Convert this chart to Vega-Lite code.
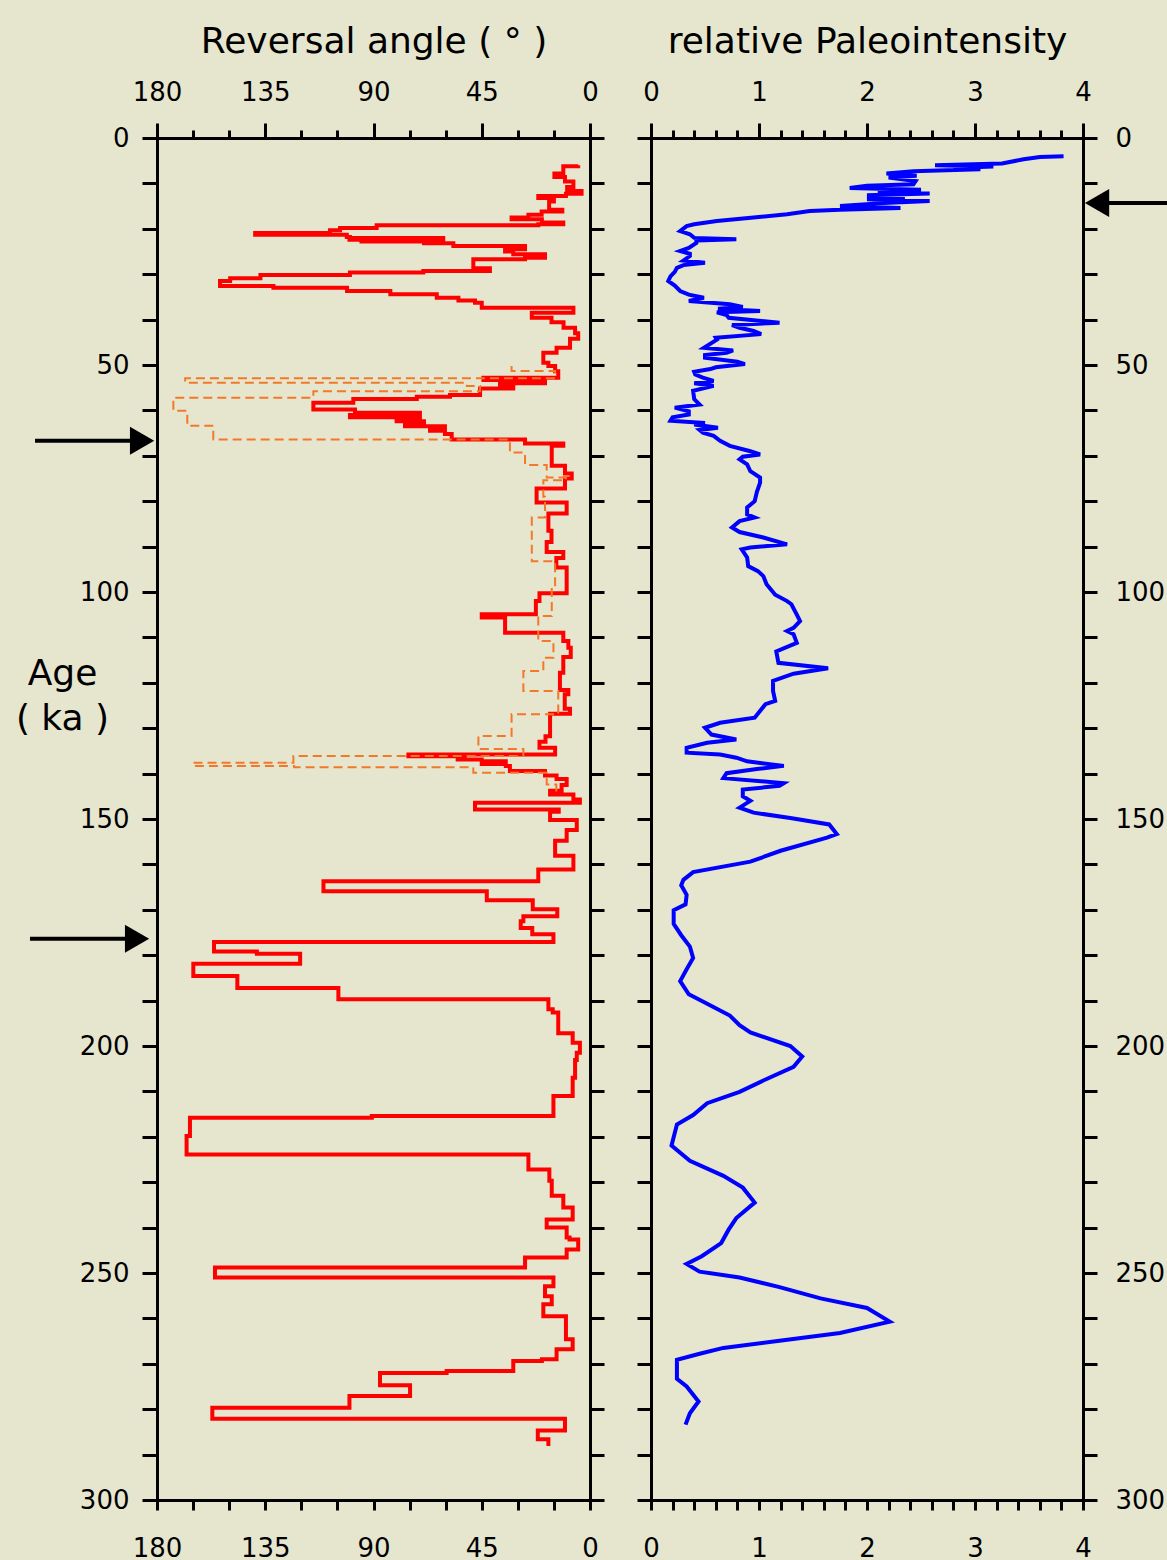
{
  "$schema": "https://vega.github.io/schema/vega-lite/v6.json",
  "background": "#E6E6CF",
  "padding": {"left": 15, "top": 23, "right": 0, "bottom": 0},
  "bounds": "flush",
  "spacing": 61,
  "config": {
    "view": {"stroke": null},
    "font": "DejaVu Sans",
    "axis": {
      "labelFont": "DejaVu Sans", "titleFont": "DejaVu Sans",
      "labelColor": "#000000", "titleColor": "#000000",
      "domainColor": "#000000", "tickColor": "#000000",
      "domainWidth": 3, "tickWidth": 3, "domainCap": "square",
      "labelFontSize": 26, "titleFontSize": 36, "titleFontWeight": "normal",
      "grid": false, "labelFlush": false, "labelOverlap": false, "labelBound": false
    }
  },
  "datasets": {
    "red": [
      {"age":6.0,"angle":4.9},{"age":6.2,"angle":11.1},{"age":7.8,"angle":14.8},{"age":8.6,"angle":10.4},{"age":9.6,"angle":6.9},
      {"age":10.8,"angle":9.5},{"age":11.7,"angle":3.5},{"age":12.3,"angle":10.0},{"age":12.8,"angle":21.5},{"age":13.2,"angle":15.0},
      {"age":14.0,"angle":17.0},{"age":15.8,"angle":11.5},{"age":16.2,"angle":20.1},{"age":16.9,"angle":25.6},{"age":17.5,"angle":32.6},
      {"age":17.9,"angle":20.0},{"age":18.6,"angle":11.1},{"age":19.0,"angle":21.5},{"age":19.2,"angle":88.7},{"age":19.8,"angle":103.9},
      {"age":20.3,"angle":108.1},{"age":20.9,"angle":139.2},{"age":21.3,"angle":101.1},{"age":21.8,"angle":99.8},{"age":22.0,"angle":61.0},
      {"age":22.2,"angle":100.0},{"age":22.4,"angle":61.0},{"age":22.6,"angle":95.0},{"age":22.8,"angle":69.0},{"age":23.2,"angle":56.8},
      {"age":23.8,"angle":27.0},{"age":24.5,"angle":35.3},{"age":25.0,"angle":31.9},{"age":25.6,"angle":18.7},{"age":26.4,"angle":27.0},
      {"age":26.7,"angle":48.5},{"age":28.7,"angle":41.6},{"age":29.3,"angle":69.3},{"age":29.6,"angle":99.8},{"age":30.2,"angle":137.0},
      {"age":30.9,"angle":149.6},{"age":31.5,"angle":153.8},{"age":32.6,"angle":131.6},{"age":33.0,"angle":101.0},{"age":33.7,"angle":83.0},
      {"age":34.4,"angle":63.7},{"age":35.2,"angle":54.7},{"age":35.8,"angle":47.8},{"age":36.3,"angle":45.0},{"age":37.4,"angle":6.9},
      {"age":38.5,"angle":24.2},{"age":39.6,"angle":16.0},{"age":40.6,"angle":11.0},{"age":41.8,"angle":6.2},{"age":43.0,"angle":4.9},
      {"age":44.2,"angle":8.3},{"age":46.2,"angle":13.9},{"age":47.3,"angle":19.4},{"age":49.5,"angle":17.3},{"age":50.2,"angle":14.5},
      {"age":51.4,"angle":13.2},{"age":52.8,"angle":44.3},{"age":53.3,"angle":18.7},{"age":54.0,"angle":37.4},{"age":54.6,"angle":31.9},
      {"age":55.2,"angle":45.7},{"age":56.6,"angle":58.2},{"age":57.0,"angle":72.0},{"age":57.5,"angle":98.4},{"age":58.3,"angle":115.0},
      {"age":59.8,"angle":97.7},{"age":60.5,"angle":70.7},{"age":61.0,"angle":99.8},{"age":61.5,"angle":70.7},{"age":62.0,"angle":80.4},
      {"age":62.4,"angle":69.0},{"age":62.7,"angle":76.9},{"age":63.5,"angle":60.3},{"age":63.9,"angle":66.5},{"age":64.5,"angle":60.3},
      {"age":65.2,"angle":57.5},{"age":66.4,"angle":27.0},{"age":67.3,"angle":11.1},{"age":67.8,"angle":15.9},{"age":72.2,"angle":10.4},
      {"age":73.9,"angle":7.6},{"age":75.0,"angle":10.4},{"age":77.2,"angle":22.2},{"age":80.3,"angle":9.7},{"age":82.7,"angle":17.3},
      {"age":86.5,"angle":16.0},{"age":89.0,"angle":18.0},{"age":91.2,"angle":11.1},{"age":92.5,"angle":14.0},{"age":94.6,"angle":9.7},
      {"age":100.3,"angle":21.0},{"age":102.0,"angle":22.5},{"age":104.9,"angle":45.0},{"age":105.6,"angle":35.3},{"age":109.0,"angle":11.1},
      {"age":110.8,"angle":9.0},{"age":112.3,"angle":8.0},{"age":114.3,"angle":11.1},{"age":117.8,"angle":12.5},{"age":121.6,"angle":9.0},
      {"age":122.5,"angle":10.5},{"age":125.7,"angle":8.3},{"age":126.8,"angle":16.6},{"age":131.8,"angle":18.5},{"age":133.0,"angle":21.0},
      {"age":134.3,"angle":14.5},{"age":135.8,"angle":75.5},{"age":136.2,"angle":52.0},{"age":136.6,"angle":55.0},{"age":136.9,"angle":45.0},
      {"age":137.3,"angle":35.0},{"age":137.6,"angle":45.0},{"age":137.9,"angle":35.0},{"age":138.3,"angle":33.3},{"age":139.4,"angle":18.7},
      {"age":140.4,"angle":13.9},{"age":141.2,"angle":9.7},{"age":142.5,"angle":11.8},{"age":143.8,"angle":16.6},{"age":144.6,"angle":6.9},
      {"age":145.7,"angle":4.2},{"age":146.4,"angle":47.8},{"age":147.9,"angle":13.0},{"age":148.4,"angle":16.6},{"age":150.2,"angle":5.5},
      {"age":152.4,"angle":9.7},{"age":154.8,"angle":14.5},{"age":158.1,"angle":6.9},{"age":161.1,"angle":21.5},{"age":163.7,"angle":110.8},
      {"age":165.9,"angle":42.9},{"age":167.9,"angle":23.8},{"age":169.9,"angle":13.6},{"age":171.4,"angle":27.7},{"age":172.5,"angle":28.8},
      {"age":174.0,"angle":24.0},{"age":175.4,"angle":15.2},{"age":177.1,"angle":156.3},{"age":179.2,"angle":138.5},{"age":179.7,"angle":120.5},
      {"age":181.9,"angle":164.9},{"age":184.6,"angle":146.6},{"age":187.2,"angle":104.6},{"age":189.7,"angle":17.3},{"age":191.9,"angle":15.5},
      {"age":192.6,"angle":13.2},{"age":197.2,"angle":7.2},{"age":199.3,"angle":4.2},{"age":201.5,"angle":5.5},{"age":203.1,"angle":6.2},
      {"age":207.0,"angle":7.2},{"age":211.0,"angle":15.2},{"age":215.4,"angle":90.7},{"age":215.8,"angle":166.3},{"age":219.8,"angle":167.7},
      {"age":223.9,"angle":25.6},{"age":227.2,"angle":16.9},{"age":229.7,"angle":15.9},{"age":233.0,"angle":11.1},{"age":235.6,"angle":7.2},
      {"age":238.2,"angle":18.0},{"age":240.0,"angle":9.7},{"age":242.2,"angle":8.5},{"age":242.6,"angle":4.9},{"age":244.8,"angle":9.7},
      {"age":246.6,"angle":27.0},{"age":248.8,"angle":155.9},{"age":251.0,"angle":15.2},{"age":252.9,"angle":18.7},{"age":255.1,"angle":15.9},
      {"age":256.9,"angle":19.4},{"age":259.5,"angle":10.0},{"age":264.6,"angle":7.2},{"age":266.8,"angle":13.9},{"age":269.0,"angle":20.0},
      {"age":269.4,"angle":31.9},{"age":271.6,"angle":59.6},{"age":272.0,"angle":87.3},{"age":274.7,"angle":74.8},{"age":277.1,"angle":100.0},
      {"age":279.7,"angle":157.0},{"age":282.1,"angle":10.4},{"age":284.7,"angle":21.7},{"age":286.6,"angle":17.3},{"age":288.1,"angle":17.3}
    ],
    "orange": [
      {"age":50.2,"angle":32.6},{"age":51.3,"angle":14.5},{"age":52.9,"angle":168.3},{"age":53.9,"angle":51.2},{"age":54.6,"angle":45.7},
      {"age":55.8,"angle":115.0},{"age":57.2,"angle":173.2},{"age":60.1,"angle":167.4},{"age":63.4,"angle":156.6},{"age":66.4,"angle":33.3},
      {"age":69.3,"angle":27.0},{"age":72.0,"angle":18.0},{"age":74.8,"angle":10.0},{"age":75.4,"angle":19.4},{"age":79.0,"angle":18.7},
      {"age":83.6,"angle":24.2},{"age":93.2,"angle":14.5},{"age":99.1,"angle":15.9},{"age":105.3,"angle":21.5},{"age":110.8,"angle":15.2},
      {"age":114.5,"angle":19.4},{"age":117.4,"angle":27.7},{"age":121.8,"angle":13.2},{"age":126.9,"angle":32.6},{"age":131.7,"angle":46.4},
      {"age":134.6,"angle":27.7},{"age":136.1,"angle":123.3},{"age":137.6,"angle":164.9},{"age":138.3,"angle":123.0},{"age":138.6,"angle":48.5},
      {"age":139.8,"angle":18.0},{"age":142.4,"angle":14.0},{"age":144.0,"angle":14.0}
    ],
    "blue": [
      {"age":4.0,"pi":3.82},{"age":4.2,"pi":3.60},{"age":4.7,"pi":3.45},{"age":5.6,"pi":3.25},{"age":6.0,"pi":2.63},
      {"age":6.3,"pi":3.17},{"age":6.6,"pi":2.80},{"age":6.9,"pi":3.05},{"age":7.3,"pi":2.43},{"age":7.8,"pi":2.18},
      {"age":8.3,"pi":2.46},{"age":8.7,"pi":2.20},{"age":9.5,"pi":2.45},{"age":10.2,"pi":2.43},{"age":10.5,"pi":2.00},
      {"age":11.0,"pi":1.84},{"age":11.4,"pi":2.50},{"age":11.8,"pi":2.10},{"age":12.2,"pi":2.58},{"age":12.6,"pi":2.00},
      {"age":13.0,"pi":2.35},{"age":13.5,"pi":2.00},{"age":13.9,"pi":2.58},{"age":14.4,"pi":2.10},{"age":15.0,"pi":1.75},
      {"age":15.4,"pi":2.31},{"age":15.8,"pi":1.75},{"age":16.1,"pi":1.47},{"age":16.8,"pi":1.26},{"age":17.5,"pi":0.95},
      {"age":18.3,"pi":0.61},{"age":19.0,"pi":0.40},{"age":19.4,"pi":0.33},{"age":20.5,"pi":0.27},{"age":21.2,"pi":0.36},
      {"age":22.0,"pi":0.40},{"age":22.3,"pi":0.79},{"age":22.6,"pi":0.42},{"age":23.1,"pi":0.42},{"age":24.2,"pi":0.35},
      {"age":24.9,"pi":0.27},{"age":25.5,"pi":0.36},{"age":26.0,"pi":0.36},{"age":27.0,"pi":0.30},{"age":27.5,"pi":0.50},
      {"age":28.0,"pi":0.30},{"age":28.6,"pi":0.24},{"age":29.5,"pi":0.22},{"age":30.5,"pi":0.18},{"age":31.5,"pi":0.16},
      {"age":32.5,"pi":0.22},{"age":33.7,"pi":0.27},{"age":34.5,"pi":0.35},{"age":35.2,"pi":0.49},{"age":35.9,"pi":0.35},
      {"age":36.6,"pi":0.73},{"age":37.2,"pi":0.85},{"age":37.6,"pi":0.62},{"age":38.1,"pi":1.01},{"age":38.4,"pi":0.61},
      {"age":39.0,"pi":0.70},{"age":39.6,"pi":0.72},{"age":40.7,"pi":1.19},{"age":41.2,"pi":0.75},{"age":41.8,"pi":0.82},
      {"age":42.5,"pi":0.95},{"age":43.2,"pi":1.02},{"age":44.0,"pi":0.60},{"age":44.4,"pi":0.61},{"age":46.2,"pi":0.49},
      {"age":46.8,"pi":0.76},{"age":47.3,"pi":0.70},{"age":47.8,"pi":0.50},{"age":48.4,"pi":0.50},{"age":49.3,"pi":0.80},
      {"age":49.8,"pi":0.87},{"age":50.5,"pi":0.60},{"age":50.9,"pi":0.55},{"age":51.5,"pi":0.40},{"age":52.1,"pi":0.41},
      {"age":52.8,"pi":0.48},{"age":53.5,"pi":0.58},{"age":54.0,"pi":0.40},{"age":54.6,"pi":0.58},{"age":55.7,"pi":0.39},
      {"age":57.5,"pi":0.40},{"age":58.7,"pi":0.45},{"age":59.4,"pi":0.22},{"age":60.2,"pi":0.35},{"age":60.9,"pi":0.35},
      {"age":61.5,"pi":0.20},{"age":62.3,"pi":0.18},{"age":62.8,"pi":0.50},{"age":63.1,"pi":0.40},{"age":63.8,"pi":0.62},
      {"age":64.3,"pi":0.45},{"age":64.9,"pi":0.48},{"age":65.6,"pi":0.58},{"age":66.7,"pi":0.64},{"age":67.8,"pi":0.73},
      {"age":69.0,"pi":0.92},{"age":69.7,"pi":1.01},{"age":70.2,"pi":0.85},{"age":70.8,"pi":0.82},{"age":71.9,"pi":0.89},
      {"age":73.4,"pi":0.92},{"age":74.8,"pi":1.01},{"age":75.9,"pi":1.01},{"age":78.0,"pi":0.98},{"age":80.0,"pi":0.96},
      {"age":81.4,"pi":0.89},{"age":82.9,"pi":0.89},{"age":83.6,"pi":0.96},{"age":84.4,"pi":0.82},{"age":85.8,"pi":0.75},
      {"age":86.8,"pi":0.82},{"age":88.0,"pi":1.04},{"age":89.5,"pi":1.26},{"age":90.2,"pi":0.92},{"age":90.6,"pi":0.84},
      {"age":92.4,"pi":0.89},{"age":94.3,"pi":0.90},{"age":95.4,"pi":0.99},{"age":96.5,"pi":1.04},{"age":98.3,"pi":1.07},
      {"age":100.6,"pi":1.15},{"age":102.0,"pi":1.26},{"age":102.7,"pi":1.30},{"age":105.0,"pi":1.35},{"age":106.4,"pi":1.38},
      {"age":107.9,"pi":1.32},{"age":108.6,"pi":1.26},{"age":109.3,"pi":1.32},{"age":111.2,"pi":1.35},{"age":113.1,"pi":1.16},
      {"age":115.6,"pi":1.18},{"age":116.8,"pi":1.64},{"age":118.0,"pi":1.32},{"age":119.6,"pi":1.13},{"age":121.8,"pi":1.13},
      {"age":124.0,"pi":1.15},{"age":124.7,"pi":1.06},{"age":127.7,"pi":0.96},{"age":128.8,"pi":0.64},{"age":129.9,"pi":0.50},
      {"age":131.4,"pi":0.56},{"age":132.5,"pi":0.79},{"age":133.2,"pi":0.52},{"age":134.3,"pi":0.33},{"age":135.4,"pi":0.33},
      {"age":135.8,"pi":0.64},{"age":136.5,"pi":0.79},{"age":137.3,"pi":0.89},{"age":138.3,"pi":1.23},{"age":139.0,"pi":0.98},
      {"age":139.9,"pi":0.70},{"age":141.0,"pi":0.67},{"age":142.1,"pi":1.23},{"age":142.7,"pi":1.19},{"age":143.5,"pi":0.85},
      {"age":145.0,"pi":0.85},{"age":146.0,"pi":0.92},{"age":147.5,"pi":0.82},{"age":148.6,"pi":0.95},{"age":149.8,"pi":1.29},
      {"age":151.2,"pi":1.65},{"age":153.3,"pi":1.72},{"age":154.1,"pi":1.63},{"age":157.0,"pi":1.20},{"age":159.4,"pi":0.92},
      {"age":161.7,"pi":0.39},{"age":163.4,"pi":0.30},{"age":164.6,"pi":0.28},{"age":166.7,"pi":0.33},{"age":168.8,"pi":0.32},
      {"age":170.1,"pi":0.21},{"age":173.1,"pi":0.21},{"age":175.6,"pi":0.28},{"age":178.1,"pi":0.36},{"age":180.6,"pi":0.39},
      {"age":183.1,"pi":0.33},{"age":185.7,"pi":0.27},{"age":188.6,"pi":0.35},{"age":190.7,"pi":0.52},{"age":193.3,"pi":0.73},
      {"age":195.4,"pi":0.82},{"age":197.0,"pi":0.92},{"age":200.0,"pi":1.29},{"age":202.3,"pi":1.40},{"age":204.6,"pi":1.32},
      {"age":207.6,"pi":1.04},{"age":210.1,"pi":0.82},{"age":212.6,"pi":0.52},{"age":215.2,"pi":0.39},{"age":217.3,"pi":0.24},
      {"age":221.9,"pi":0.19},{"age":225.3,"pi":0.36},{"age":228.6,"pi":0.67},{"age":231.2,"pi":0.85},{"age":234.5,"pi":0.96},
      {"age":237.9,"pi":0.79},{"age":240.4,"pi":0.72},{"age":243.4,"pi":0.65},{"age":246.3,"pi":0.47},{"age":248.0,"pi":0.33},
      {"age":249.7,"pi":0.45},{"age":251.0,"pi":0.82},{"age":253.1,"pi":1.19},{"age":255.6,"pi":1.57},{"age":257.7,"pi":2.00},
      {"age":260.7,"pi":2.21},{"age":263.2,"pi":1.75},{"age":264.9,"pi":1.19},{"age":266.5,"pi":0.67},{"age":267.8,"pi":0.45},
      {"age":269.1,"pi":0.24},{"age":273.3,"pi":0.24},{"age":275.0,"pi":0.33},{"age":278.3,"pi":0.44},{"age":280.9,"pi":0.36},
      {"age":283.4,"pi":0.32}
    ],
    "arrowsLeft": [
      {"age":66.7,"head":186.2,"tail":230.7},
      {"age":176.4,"head":188.3,"tail":232.8}
    ],
    "arrowsRight": [
      {"age":14.3,"head":4.13,"tail":4.78}
    ]
  },
  "hconcat": [
    {
      "width": 433,
      "height": 1362,
      "layer": [
        {
          "data": {"name": "red"},
          "mark": {"type": "line", "interpolate": "step-before", "color": "#FF0000", "strokeWidth": 4},
          "encoding": {
            "x": {"field": "angle", "type": "quantitative",
              "scale": {"domain": [0, 180], "reverse": true, "nice": false, "zero": false},
              "axis": {"orient": "top", "values": [0,15,30,45,60,75,90,105,120,135,150,165,180],
                "labelExpr": "datum.value % 45 === 0 ? datum.label : ''",
                "tickSize": {"condition": {"test": "datum.value % 45 === 0", "value": 15}, "value": 8},
                "labelPadding": 18,
                "title": "Reversal angle ( ° )", "titleY": -86, "titleBaseline": "alphabetic"}},
            "y": {"field": "age", "type": "quantitative",
              "scale": {"domain": [0, 300], "reverse": true, "nice": false, "zero": false},
              "axis": {"orient": "left", "values": [0,10,20,30,40,50,60,70,80,90,100,110,120,130,140,150,160,170,180,190,200,210,220,230,240,250,260,270,280,290,300],
                "labelExpr": "datum.value % 50 === 0 ? datum.label : ''",
                "tickSize": 15, "labelPadding": 13,
                "title": ["Age", "( ka )"], "titleAngle": 0, "titleX": -95, "titleY": 546,
                "titleAlign": "center", "titleBaseline": "alphabetic", "titleLineHeight": 45, "titleFontSize": 36}},
            "order": {"field": "age", "type": "quantitative"}
          }
        },
        {
          "data": {"name": "orange"},
          "mark": {"type": "line", "interpolate": "step-before", "color": "#F2782A", "strokeWidth": 2, "strokeDash": [9, 5]},
          "encoding": {
            "x": {"field": "angle", "type": "quantitative",
              "scale": {"domain": [0, 180], "reverse": true, "nice": false, "zero": false},
              "axis": {"orient": "bottom", "values": [0,15,30,45,60,75,90,105,120,135,150,165,180],
                "labelExpr": "datum.value % 45 === 0 ? datum.label : ''",
                "tickSize": 10, "labelPadding": 25, "title": null}},
            "y": {"field": "age", "type": "quantitative",
              "scale": {"domain": [0, 300], "reverse": true, "nice": false, "zero": false},
              "axis": {"orient": "right", "values": [0,10,20,30,40,50,60,70,80,90,100,110,120,130,140,150,160,170,180,190,200,210,220,230,240,250,260,270,280,290,300],
                "labels": false, "tickSize": 14, "title": null}},
            "order": {"field": "age", "type": "quantitative"}
          }
        },
        {
          "data": {"name": "arrowsLeft"},
          "mark": {"type": "rule", "color": "#000000", "strokeWidth": 4, "clip": false},
          "encoding": {
            "x": {"field": "head", "type": "quantitative",
              "scale": {"domain": [0, 180], "reverse": true, "nice": false, "zero": false}, "axis": null},
            "x2": {"field": "tail"},
            "y": {"field": "age", "type": "quantitative",
              "scale": {"domain": [0, 300], "reverse": true, "nice": false, "zero": false}, "axis": null}
          }
        },
        {
          "data": {"name": "arrowsLeft"},
          "mark": {"type": "point", "shape": "triangle-right", "filled": true, "color": "#000000", "opacity": 1, "size": 784, "clip": false},
          "encoding": {
            "x": {"field": "head", "type": "quantitative",
              "scale": {"domain": [0, 180], "reverse": true, "nice": false, "zero": false}, "axis": null},
            "y": {"field": "age", "type": "quantitative",
              "scale": {"domain": [0, 300], "reverse": true, "nice": false, "zero": false}, "axis": null}
          }
        }
      ],
      "resolve": {"axis": {"x": "independent", "y": "independent"}}
    },
    {
      "width": 432,
      "height": 1362,
      "layer": [
        {
          "data": {"name": "blue"},
          "mark": {"type": "line", "color": "#0000FF", "strokeWidth": 4},
          "encoding": {
            "x": {"field": "pi", "type": "quantitative",
              "scale": {"domain": [0, 4], "nice": false, "zero": false},
              "axis": {"orient": "top", "values": [0,0.2,0.4,0.6,0.8,1,1.2,1.4,1.6,1.8,2,2.2,2.4,2.6,2.8,3,3.2,3.4,3.6,3.8,4],
                "labelExpr": "datum.value % 1 === 0 ? '' + datum.value : ''",
                "tickSize": {"condition": {"test": "datum.value % 1 === 0", "value": 15}, "value": 8},
                "labelPadding": 18,
                "title": "relative Paleointensity", "titleY": -86, "titleBaseline": "alphabetic"}},
            "y": {"field": "age", "type": "quantitative",
              "scale": {"domain": [0, 300], "reverse": true, "nice": false, "zero": false},
              "axis": {"orient": "left", "values": [0,10,20,30,40,50,60,70,80,90,100,110,120,130,140,150,160,170,180,190,200,210,220,230,240,250,260,270,280,290,300],
                "labels": false, "tickSize": 14, "title": null}},
            "order": {"field": "age", "type": "quantitative"}
          }
        },
        {
          "data": {"name": "arrowsRight"},
          "mark": {"type": "rule", "color": "#000000", "strokeWidth": 4, "clip": false},
          "encoding": {
            "x": {"field": "head", "type": "quantitative",
              "scale": {"domain": [0, 4], "nice": false, "zero": false},
              "axis": {"orient": "bottom", "values": [0,0.2,0.4,0.6,0.8,1,1.2,1.4,1.6,1.8,2,2.2,2.4,2.6,2.8,3,3.2,3.4,3.6,3.8,4],
                "labelExpr": "datum.value % 1 === 0 ? '' + datum.value : ''",
                "tickSize": 10, "labelPadding": 25, "title": null}},
            "x2": {"field": "tail"},
            "y": {"field": "age", "type": "quantitative",
              "scale": {"domain": [0, 300], "reverse": true, "nice": false, "zero": false},
              "axis": {"orient": "right", "values": [0,10,20,30,40,50,60,70,80,90,100,110,120,130,140,150,160,170,180,190,200,210,220,230,240,250,260,270,280,290,300],
                "labelExpr": "datum.value % 50 === 0 ? datum.label : ''",
                "tickSize": 14, "labelPadding": 18, "title": null}}
          }
        },
        {
          "data": {"name": "arrowsRight"},
          "mark": {"type": "point", "shape": "triangle-left", "filled": true, "color": "#000000", "opacity": 1, "size": 784, "clip": false},
          "encoding": {
            "x": {"field": "head", "type": "quantitative",
              "scale": {"domain": [0, 4], "nice": false, "zero": false}, "axis": null},
            "y": {"field": "age", "type": "quantitative",
              "scale": {"domain": [0, 300], "reverse": true, "nice": false, "zero": false}, "axis": null}
          }
        }
      ],
      "resolve": {"axis": {"x": "independent", "y": "independent"}}
    }
  ]
}
